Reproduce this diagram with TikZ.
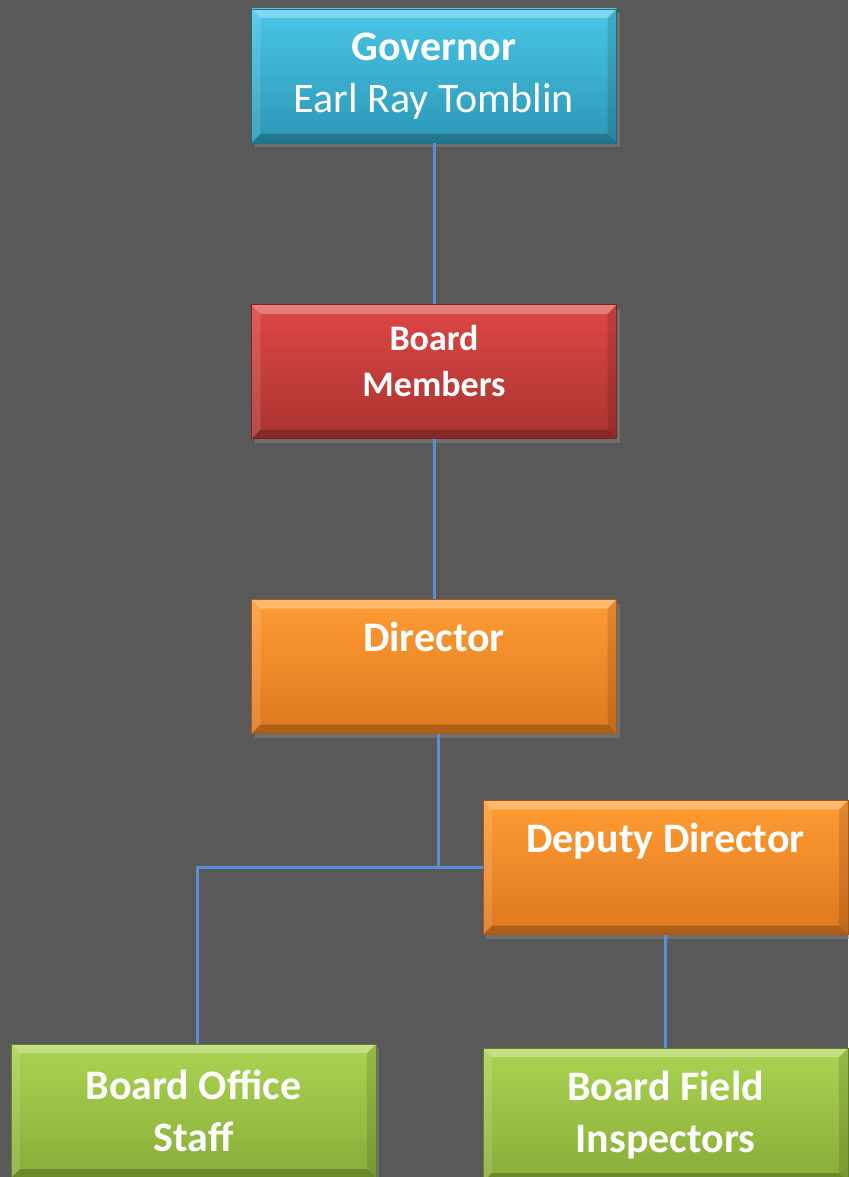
\documentclass[tikz,border=0pt]{standalone}
\usepackage{fontspec}
\setmainfont{Carlito}
\usetikzlibrary{positioning,shadows}

\definecolor{bg}{HTML}{595959}
\definecolor{linkblue}{HTML}{5A8FD8}
\definecolor{govtop}{HTML}{4AC6E6}
\definecolor{govbot}{HTML}{2B97B6}
\definecolor{govdark}{HTML}{1F6F86}
\definecolor{redtop}{HTML}{DD4744}
\definecolor{redbot}{HTML}{A93330}
\definecolor{reddark}{HTML}{7A2321}
\definecolor{orgtop}{HTML}{FF9C33}
\definecolor{orgbot}{HTML}{DD781F}
\definecolor{orgdark}{HTML}{A8591A}
\definecolor{grntop}{HTML}{ABD452}
\definecolor{grnbot}{HTML}{88AC38}
\definecolor{grndark}{HTML}{667F2A}

\tikzset{
  bevel/.style={path picture={
    \fill[white,opacity=.3] (path picture bounding box.north west) -- (path picture bounding box.north east)
      -- ([shift={(-9pt,-9pt)}]path picture bounding box.north east) -- ([shift={(9pt,-9pt)}]path picture bounding box.north west) -- cycle;
    \fill[white,opacity=.12] (path picture bounding box.north west) -- (path picture bounding box.south west)
      -- ([shift={(9pt,9pt)}]path picture bounding box.south west) -- ([shift={(9pt,-9pt)}]path picture bounding box.north west) -- cycle;
    \fill[black,opacity=.12] (path picture bounding box.north east) -- (path picture bounding box.south east)
      -- ([shift={(-9pt,9pt)}]path picture bounding box.south east) -- ([shift={(-9pt,-9pt)}]path picture bounding box.north east) -- cycle;
    \fill[black,opacity=.22] (path picture bounding box.south west) -- (path picture bounding box.south east)
      -- ([shift={(-9pt,9pt)}]path picture bounding box.south east) -- ([shift={(9pt,9pt)}]path picture bounding box.south west) -- cycle;
  }},
  box/.style={bevel, minimum width=365pt, minimum height=134pt, inner sep=0pt, align=center, text=white,
    font=\fontsize{42}{52}\selectfont\bfseries, line width=.8pt,
    drop shadow={shadow xshift=3pt, shadow yshift=-4pt, opacity=.55}},
  topalign/.style={text height=30pt, text depth=61pt},
  govbox/.style={box, draw=govdark, top color=govtop, bottom color=govbot},
  boardbox/.style={box, draw=reddark, top color=redtop, bottom color=redbot,
    font=\fontsize{36}{46}\selectfont\bfseries, text depth=21pt},
  staffbox/.style={box, draw=orgdark, top color=orgtop, bottom color=orgbot, topalign},
  unitbox/.style={box, draw=grndark, top color=grntop, bottom color=grnbot},
  link/.style={draw=linkblue, line width=3pt}
}

\begin{document}
\begin{tikzpicture}[x=1pt, y=1pt]
  \useasboundingbox (0,0) rectangle (848,-1177);
  \fill[bg] (0,0) rectangle (848,-1177);

  \node[govbox] (gov) at (434,-76) {Governor\\\mdseries Earl Ray Tomblin};
  \node[boardbox, below=161pt of gov] (board) {Board\\Members};
  \node[staffbox, below=160pt of board] (dir) {Director};
  \node[staffbox] (dep) at (665.5,-867.5) {Deputy Director};
  \node[unitbox] (office) at (193.5,-1111) {Board Office\\Staff};
  \node[unitbox] (field) at (665.5,-1115) {Board Field\\Inspectors};

  \draw[link] (gov) -- (board);
  \draw[link] (board) -- (dir);
  \draw[link] ([xshift=4pt]dir.south) -- ([xshift=4pt]dir.south |- dep.west);
  \draw[link] (dep.west) -- ([xshift=4pt]office.north |- dep.west) -- ([xshift=4pt]office.north);
  \draw[link] (dep) -- (field);
\end{tikzpicture}
\end{document}
